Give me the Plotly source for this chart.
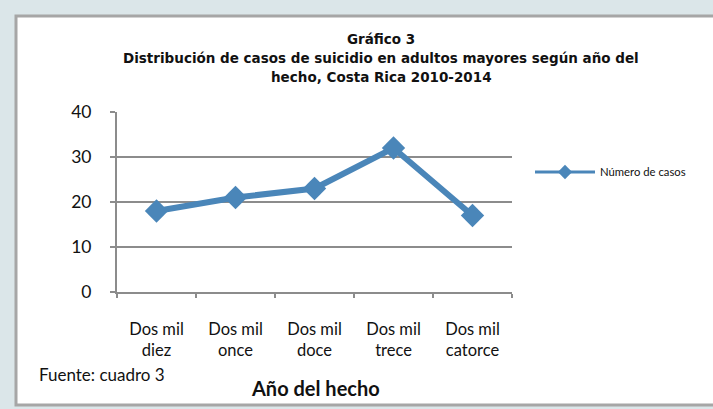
import plotly.graph_objects as go

# data
years = ["Dos mil<br>diez", "Dos mil<br>once", "Dos mil<br>doce",
         "Dos mil<br>trece", "Dos mil<br>catorce"]
casos = [18, 21, 23, 32, 17]
series_name = "Número de casos"

title_lines = ["Gráfico 3",
               "Distribución de casos de suicidio en adultos mayores según año del",
               "hecho, Costa Rica 2010-2014"]

font_main = "Lato"
font_title = "DejaVu Sans"
blue = "#4a86b9"
grid = "#8c8c8c"

fig = go.Figure()
fig.add_trace(go.Scatter(
    x=years, y=casos, name=series_name, mode="lines+markers",
    line=dict(color=blue, width=6),
    marker=dict(symbol="diamond", size=18, color=blue),
    legendgroup="casos", showlegend=False,
))
# legend entry only, with the thinner line / smaller marker used in the key
fig.add_trace(go.Scatter(
    x=[None], y=[None], name=series_name, mode="lines+markers",
    line=dict(color=blue, width=3),
    marker=dict(symbol="diamond", size=11, color=blue),
    legendgroup="casos",
))

W, H = 713, 409
L, R, T, B = 117, 201, 112, 117
pw, ph = W - L - R, H - T - B

def px(x):  # pixel -> paper x
    return (x - L) / pw

def py(y):  # pixel -> paper y
    return (H - B - y) / ph

def note(text, x, y, size, anchor="center", family=font_main):
    return dict(text=text, x=px(x), y=py(y), xref="paper", yref="paper",
                xanchor=anchor, yanchor="middle", showarrow=False,
                font=dict(size=size, family=family))

fig.update_layout(
    width=W, height=H,
    margin=dict(l=L, r=R, t=T, b=B, pad=0),
    paper_bgcolor="#dbe6e9",
    plot_bgcolor="white",
    font=dict(family=font_main, color="#111111"),
    showlegend=True,
    legend=dict(x=px(530), y=py(172), xanchor="left", yanchor="middle",
                font=dict(size=11.3, family=font_main), bgcolor="rgba(0,0,0,0)",
                itemwidth=60),
    shapes=[dict(type="rect", xref="paper", yref="paper",
                 x0=px(16), x1=px(730), y0=py(405), y1=py(16),
                 fillcolor="white", line=dict(color="#a6a6a6", width=3),
                 layer="below")],
    annotations=[
        note("<b>" + title_lines[0] + "</b>", 381, 39, 13.5, family=font_title),
        note("<b>" + title_lines[1] + "</b>", 381, 58, 13.5, family=font_title),
        note("<b>" + title_lines[2] + "</b>", 381, 77, 13.5, family=font_title),
        note("Fuente: cuadro 3", 37, 374, 17, anchor="left"),
        note("<b>Año del hecho</b>", 315, 388, 20),
    ],
)

fig.update_yaxes(
    range=[0, 40], dtick=10, showgrid=True, gridcolor=grid, gridwidth=2,
    showline=True, linecolor=grid, linewidth=2, zeroline=False,
    ticks="outside", ticklen=5, tickcolor=grid, tickwidth=2,
    ticklabelstandoff=15, tickfont=dict(size=17.5),
)
fig.update_xaxes(
    range=[-0.5, 4.5],
    showgrid=False, showline=True, linecolor=grid, linewidth=2,
    ticks="outside", tickson="boundaries", ticklen=4, tickcolor=grid, tickwidth=2,
    ticklabelstandoff=21, tickfont=dict(size=16.5),
)

fig.write_html("out.html", config={"displayModeBar": False},
               post_script="document.body.style.margin='0';"
                           "document.body.style.overflow='hidden';")
